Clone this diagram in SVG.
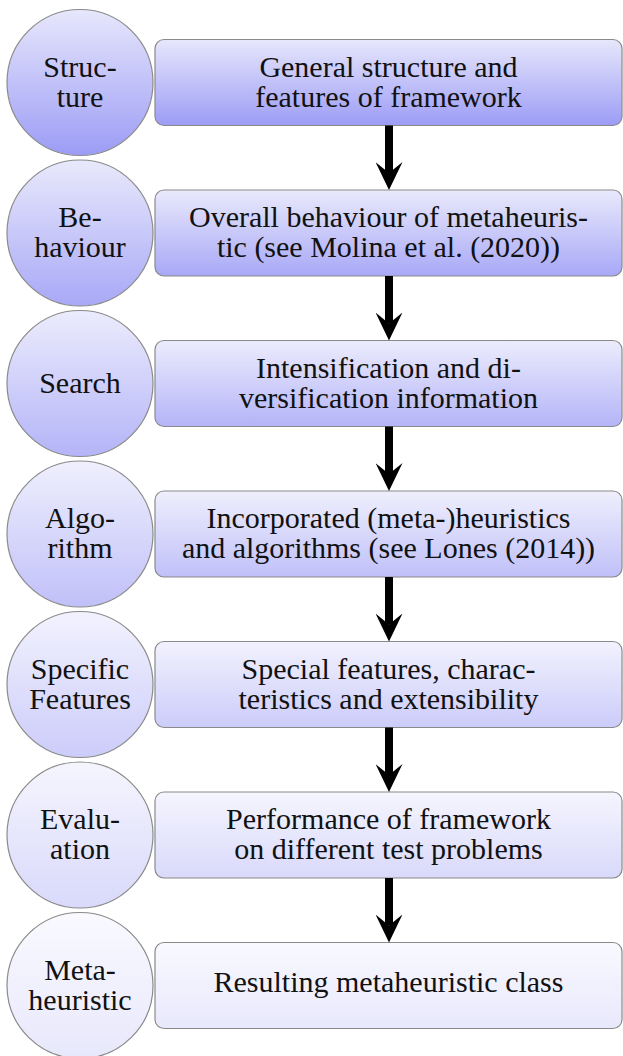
<svg xmlns="http://www.w3.org/2000/svg" width="623" height="1056" viewBox="0 0 623 1056" font-family="Liberation Serif, Times New Roman, DejaVu Serif, serif">
  <style>
    .shape { stroke: #8a8a8a; stroke-width: 1.2; }
    .lbl { font-family: Liberation Serif, Times New Roman, DejaVu Serif, serif; font-size: 30px; fill: #111; text-anchor: middle; }
    .flow { stroke: #000; stroke-width: 8; fill: none; marker-end: url(#head); }
  </style>
  <defs>
    <linearGradient id="g0" x1="0" y1="0" x2="0" y2="1"><stop offset="0" stop-color="#e7e7fc"/><stop offset="1" stop-color="#9c9cf6"/></linearGradient>
    <linearGradient id="g1" x1="0" y1="0" x2="0" y2="1"><stop offset="0" stop-color="#e9e9fc"/><stop offset="1" stop-color="#a8a8f7"/></linearGradient>
    <linearGradient id="g2" x1="0" y1="0" x2="0" y2="1"><stop offset="0" stop-color="#ececfd"/><stop offset="1" stop-color="#b4b4f8"/></linearGradient>
    <linearGradient id="g3" x1="0" y1="0" x2="0" y2="1"><stop offset="0" stop-color="#efeffd"/><stop offset="1" stop-color="#c0c0f9"/></linearGradient>
    <linearGradient id="g4" x1="0" y1="0" x2="0" y2="1"><stop offset="0" stop-color="#f2f2fe"/><stop offset="1" stop-color="#ccccfa"/></linearGradient>
    <linearGradient id="g5" x1="0" y1="0" x2="0" y2="1"><stop offset="0" stop-color="#f5f5fe"/><stop offset="1" stop-color="#d9d9fb"/></linearGradient>
    <linearGradient id="g6" x1="0" y1="0" x2="0" y2="1"><stop offset="0" stop-color="#f9f9ff"/><stop offset="1" stop-color="#e8e8fc"/></linearGradient>
    <marker id="head" markerUnits="userSpaceOnUse" viewBox="0 0 28 27" refX="11" refY="13.5" markerWidth="28" markerHeight="27" orient="auto">
      <path d="M0,0 L28,13.5 L0,27 L11,13.5 Z" fill="#000"/>
    </marker>
  </defs>

  <g id="stage-structure">
    <circle class="shape" cx="80" cy="82.5" r="73" fill="url(#g0)"/>
    <text class="lbl" x="80" y="76.5">Struc-</text>
    <text class="lbl" x="80" y="106.5">ture</text>
  </g>
  <g id="box-structure">
    <rect class="shape" x="155" y="39.5" width="467" height="86" rx="9" fill="url(#g0)"/>
    <text class="lbl" x="388.5" y="76.5">General structure and</text>
    <text class="lbl" x="388.5" y="106.5">features of framework</text>
  </g>

  <g id="stage-behaviour">
    <circle class="shape" cx="80" cy="233" r="73" fill="url(#g1)"/>
    <text class="lbl" x="80" y="227">Be-</text>
    <text class="lbl" x="80" y="257">haviour</text>
  </g>
  <g id="box-behaviour">
    <rect class="shape" x="155" y="190" width="467" height="86" rx="9" fill="url(#g1)"/>
    <text class="lbl" x="388.5" y="227">Overall behaviour of metaheuris-</text>
    <text class="lbl" x="388.5" y="257">tic (see Molina et al. (2020))</text>
  </g>

  <g id="stage-search">
    <circle class="shape" cx="80" cy="383.5" r="73" fill="url(#g2)"/>
    <text class="lbl" x="80" y="393">Search</text>
  </g>
  <g id="box-search">
    <rect class="shape" x="155" y="340.5" width="467" height="86" rx="9" fill="url(#g2)"/>
    <text class="lbl" x="388.5" y="377.5">Intensification and di-</text>
    <text class="lbl" x="388.5" y="407.5">versification information</text>
  </g>

  <g id="stage-algorithm">
    <circle class="shape" cx="80" cy="534" r="73" fill="url(#g3)"/>
    <text class="lbl" x="80" y="528">Algo-</text>
    <text class="lbl" x="80" y="558">rithm</text>
  </g>
  <g id="box-algorithm">
    <rect class="shape" x="155" y="491" width="467" height="86" rx="9" fill="url(#g3)"/>
    <text class="lbl" x="388.5" y="528">Incorporated (meta-)heuristics</text>
    <text class="lbl" x="388.5" y="558">and algorithms (see Lones (2014))</text>
  </g>

  <g id="stage-features">
    <circle class="shape" cx="80" cy="684.5" r="73" fill="url(#g4)"/>
    <text class="lbl" x="80" y="678.5">Specific</text>
    <text class="lbl" x="80" y="708.5">Features</text>
  </g>
  <g id="box-features">
    <rect class="shape" x="155" y="641.5" width="467" height="86" rx="9" fill="url(#g4)"/>
    <text class="lbl" x="388.5" y="678.5">Special features, charac-</text>
    <text class="lbl" x="388.5" y="708.5">teristics and extensibility</text>
  </g>

  <g id="stage-evaluation">
    <circle class="shape" cx="80" cy="835" r="73" fill="url(#g5)"/>
    <text class="lbl" x="80" y="829">Evalu-</text>
    <text class="lbl" x="80" y="859">ation</text>
  </g>
  <g id="box-evaluation">
    <rect class="shape" x="155" y="792" width="467" height="86" rx="9" fill="url(#g5)"/>
    <text class="lbl" x="388.5" y="829">Performance of framework</text>
    <text class="lbl" x="388.5" y="859">on different test problems</text>
  </g>

  <g id="stage-metaheuristic">
    <circle class="shape" cx="80" cy="985.5" r="73" fill="url(#g6)"/>
    <text class="lbl" x="80" y="979.5">Meta-</text>
    <text class="lbl" x="80" y="1009.5">heuristic</text>
  </g>
  <g id="box-metaheuristic">
    <rect class="shape" x="155" y="942.5" width="467" height="86" rx="9" fill="url(#g6)"/>
    <text class="lbl" x="388.5" y="992">Resulting metaheuristic class</text>
  </g>

  <g id="connectors">
    <line class="flow" x1="389" y1="125.5" x2="389" y2="173"/>
    <line class="flow" x1="389" y1="276" x2="389" y2="323.5"/>
    <line class="flow" x1="389" y1="426.5" x2="389" y2="474"/>
    <line class="flow" x1="389" y1="577" x2="389" y2="624.5"/>
    <line class="flow" x1="389" y1="727.5" x2="389" y2="775"/>
    <line class="flow" x1="389" y1="878" x2="389" y2="925.5"/>
  </g>
</svg>
